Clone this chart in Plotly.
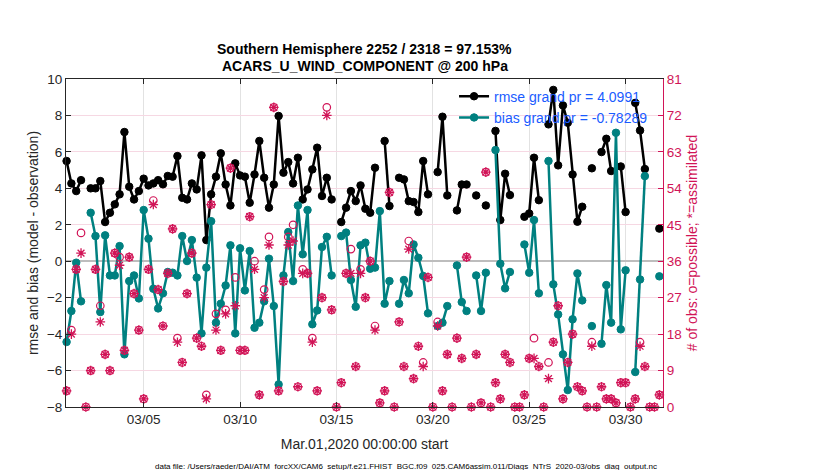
"""
Observation-space rmse / bias evolution with observation counts (plotly)
"""

import pandas as pd
import plotly.graph_objs as go

N = None  # no assimilated obs in that bin

TIMES = pd.date_range('2020-03-01 00:00', periods=125, freq='6h')

RMSE = [5.50, 4.27, 3.85, 4.45, N, 4.00, 4.00, 4.40, 2.15, 2.66,
        3.12, 3.67, 7.09, 4.09, 3.39, 3.85, 4.53, 4.16, 4.27, 4.45,
        4.22, 4.68, 4.64, 5.77, 3.48, 3.39, 4.27, 3.94, 5.81, 1.16,
        3.67, 4.64, 5.92, 4.21, 3.06, 5.37, 4.71, 4.64, 3.21, 4.76,
        6.60, 4.58, 2.94, 4.21, 7.97, 4.86, 5.44, 4.27, 5.68, 3.39,
        3.94, 5.04, 6.23, 3.58, 4.58, 3.39, N, 2.15, 2.94, 3.85,
        3.30, 4.16, 2.88, 2.66, 5.13, N, 6.60, 3.03, N, 4.58,
        4.49, 3.30, 3.25, 2.70, 5.50, 3.67, N, 4.89, 7.93, 3.61,
        N, 2.79, 4.21, 4.21, N, 3.61, N, 3.06, N, 7.15,
        2.26, 4.80, 3.63, N, N, 2.44, 2.62, 5.68, 3.35, N,
        7.51, 9.40, 5.26, 8.55, 7.60, 4.76, 2.17, 2.99, N, 5.10,
        N, 5.99, 6.72, 4.95, N, 5.20, 2.70, N, 8.69, 7.18,
        5.06, N, N, 1.79, N]

BIAS = [-4.43, -2.73, -0.08, -2.20, N, 2.66, 1.38, -2.79, 1.42, -0.78,
        -0.78, 0.83, -5.11, -1.09, -0.78, -2.04, 2.81, 1.24, -1.51, -2.59,
        -1.76, -0.59, -0.63, -0.78, 1.38, 0.01, 1.16, -0.90, -3.96, -0.35,
        2.20, -3.37, -2.33, -1.33, 0.87, -3.96, 0.71, -1.60, 0.56, -3.65,
        -3.37, -2.20, 0.14, -2.46, -6.76, -0.78, 1.60, -1.09, 3.06, 0.38,
        2.81, -3.46, -2.70, 0.78, 1.34, -0.78, N, 1.38, 1.57, -1.03,
        -2.50, 0.87, 1.02, -0.41, -0.35, 2.75, -2.33, -1.09, N, -2.33,
        -1.03, -1.76, 0.92, 0.19, -0.81, -2.86, N, -3.56, -3.37, -2.46,
        N, -0.23, -2.24, -2.73, N, -0.78, -2.73, -0.63, N, 6.10,
        -0.14, -1.49, -0.59, N, N, 0.92, -0.63, 2.26, -1.76, N,
        5.50, -1.27, -2.92, -5.11, -7.07, -3.19, -0.67, -2.15, N, -3.56,
        N, -4.53, -1.31, -3.37, 7.05, -3.74, -0.50, N, -6.08, -1.00,
        4.67, N, N, -0.83, N]

NPOSS = [4, 19, 34, 43, 0, 9, 34, 25, 13, 9,
         38, 37, 14, 37, 28, 19, 2, 34, 51, 29,
         20, 33, 44, 17, 11, 28, 38, 17, 15, 3,
         50, 23, 14, 24, 59, 32, 14, 14, 47, 36,
         3, 29, 42, 74, 4, 31, 42, 45, 5, 34,
         33, 17, 4, 27, 74, 24, 0, 6, 33, 39,
         10, 34, 27, 36, 20, 1, 4, 53, 0, 21,
         10, 41, 7, 15, 11, 32, 0, 21, 4, 13,
         0, 17, 12, 37, 0, 13, 1, 58, 0, 6,
         2, 13, 11, 0, 0, 3, 12, 17, 10, 0,
         11, 16, 25, 2, 11, 18, 5, 4, 0, 16,
         0, 5, 2, 2, 1, 6, 6, 0, 2, 16,
         10, 0, 0, 3, 0]

NUSED = [4, 18, 34, 38, 0, 9, 34, 21, 13, 9,
         38, 35, 14, 37, 28, 19, 2, 34, 50, 29,
         20, 33, 44, 16, 11, 28, 38, 17, 15, 2,
         50, 19, 14, 23, 59, 25, 14, 14, 47, 34,
         3, 27, 40, 74, 4, 31, 40, 41, 5, 33,
         33, 16, 4, 27, 72, 24, 0, 6, 33, 33,
         10, 33, 27, 36, 19, 1, 4, 53, 0, 21,
         10, 39, 7, 15, 10, 32, 0, 20, 4, 13,
         0, 17, 12, 37, 0, 13, 1, 58, 0, 6,
         2, 13, 11, 0, 0, 3, 12, 12, 10, 0,
         7, 16, 25, 2, 11, 18, 5, 4, 0, 15,
         0, 5, 2, 2, 1, 6, 6, 0, 2, 15,
         10, 0, 0, 3, 0]

TICK_DAYS = ['2020-03-05', '2020-03-10', '2020-03-15',
             '2020-03-20', '2020-03-25', '2020-03-30']

FONT = 'Liberation Sans, Arial, sans-serif'
DARK = '#262626'
TEAL = 'rgb(0,128,128)'
CRIMSON = '#d11457'

RMSE_TRACE = go.Scatter(x=TIMES, y=RMSE, name='rmse grand pr = 4.0991',
                        mode='lines+markers', cliponaxis=False,
                        line=dict(color='black', width=2.5),
                        marker=dict(color='black', size=7.5,
                                    line=dict(color='black', width=1)))
BIAS_TRACE = go.Scatter(x=TIMES, y=BIAS, name='bias grand pr = -0.78289',
                        mode='lines+markers', cliponaxis=False,
                        line=dict(color=TEAL, width=2.5),
                        marker=dict(color=TEAL, size=7.5,
                                    line=dict(color=TEAL, width=1)))
POSS_TRACE = go.Scatter(x=TIMES, y=NPOSS, yaxis='y2', mode='markers',
                        showlegend=False, cliponaxis=False,
                        marker=dict(symbol='circle-open', size=7.5,
                                    color=CRIMSON,
                                    line=dict(color=CRIMSON, width=1.2)))
USED_TRACE = go.Scatter(x=TIMES, y=NUSED, yaxis='y2', mode='markers',
                        showlegend=False, cliponaxis=False,
                        marker=dict(symbol='asterisk-open', size=8,
                                    color=CRIMSON,
                                    line=dict(color=CRIMSON, width=1.3)))

fig = go.Figure([RMSE_TRACE, BIAS_TRACE, POSS_TRACE, USED_TRACE])

fig.update_layout(
    width=830, height=470,
    margin=dict(l=58, r=175, t=71, b=71),
    paper_bgcolor='white', plot_bgcolor='white',
    font=dict(family=FONT, size=13.5, color=DARK),
    xaxis=dict(type='date',
               range=['2020-02-29 23:17', '2020-03-31 22:34'],
               tickvals=TICK_DAYS, tickformat='%m/%d',
               ticks='inside', ticklen=5, tickcolor=DARK,
               showline=True, linecolor=DARK, linewidth=1, mirror='ticks',
               showgrid=True, gridcolor='#e2e2e2', gridwidth=1,
               zeroline=False,
               title=dict(text='Mar.01,2020 00:00:00 start',
                          font=dict(size=14), standoff=12)),
    yaxis=dict(range=[-8, 10], dtick=2,
               ticks='inside', ticklen=5, tickcolor=DARK,
               showline=True, linecolor=DARK, linewidth=1,
               showgrid=False,
               zeroline=True, zerolinecolor='#bdbdbd', zerolinewidth=2,
               title=dict(text='rmse and bias (model - observation)',
                          font=dict(size=14), standoff=4)),
    yaxis2=dict(range=[0, 81], dtick=9, overlaying='y', side='right',
                ticks='inside', ticklen=5, tickcolor=CRIMSON,
                showline=True, linecolor=CRIMSON, linewidth=1,
                tickfont=dict(color=CRIMSON),
                showgrid=True, gridcolor='#f6d8e3', gridwidth=1,
                zeroline=False,
                title=dict(text='# of obs: o=possible; *=assimilated',
                           font=dict(size=14, color=CRIMSON), standoff=5)),
    legend=dict(x=0.65, y=0.995, xanchor='left', yanchor='top',
                bgcolor='rgba(0,0,0,0)', borderwidth=0,
                font=dict(size=14, color='#1a5cff'),
                tracegroupgap=0, itemwidth=30),
    annotations=[
        dict(text='<b>Southern Hemisphere 2252 / 2318 = 97.153%</b>',
             xref='paper', yref='paper', x=0.5, y=1.092,
             xanchor='center', yanchor='middle', showarrow=False,
             font=dict(size=14, color='black')),
        dict(text='<b>ACARS_U_WIND_COMPONENT @ 200 hPa</b>',
             xref='paper', yref='paper', x=0.5, y=1.041,
             xanchor='center', yanchor='middle', showarrow=False,
             font=dict(size=14, color='black')),
        dict(text='data file: /Users/raeder/DAI/ATM_forcXX/CAM6_setup/'
                  'f.e21.FHIST_BGC.f09_025.CAM6assim.011/'
                  'Diags_NTrS_2020-03/obs_diag_output.nc',
             xref='paper', yref='paper', x=0.1457, y=-0.18,
             xanchor='left', yanchor='middle', showarrow=False,
             font=dict(size=8, color='black')),
    ],
)

fig.write_html('out.html')
